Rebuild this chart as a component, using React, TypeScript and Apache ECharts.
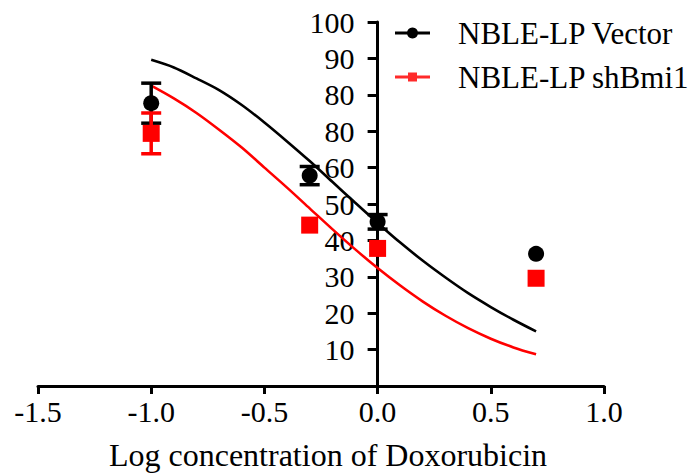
import React, { useEffect, useRef } from "react";
import * as echarts from "echarts";

const seriesNames = ["NBLE-LP Vector", "NBLE-LP shBmi1"];
const doseX = [-1.0, -0.3, 0.0, 0.7];
const vectorMean = [77.7, 57.8, 45.1, 36.3];
const vectorErr = [5.5, 2.5, 2.0, 0];
const shBmi1Mean = [69.4, 44.2, 37.8, 29.6];
const shBmi1Err = [5.6, 0, 0, 0];

const curveX = [-1.0, -0.9, -0.8, -0.7, -0.6, -0.5, -0.4, -0.3, -0.2, -0.1, 0.0, 0.1, 0.2, 0.3, 0.4, 0.5, 0.6, 0.7];
const vectorCurve = [89.6, 87.5, 84.5, 81.3, 77.2, 72.4, 67.2, 61.8, 56.1, 50.4, 44.8, 39.4, 34.4, 29.8, 25.5, 21.7, 18.2, 15.0];
const shBmi1Curve = [82.5, 79.0, 75.0, 70.4, 65.5, 60.0, 54.5, 48.8, 43.1, 37.6, 32.4, 27.6, 23.2, 19.3, 15.9, 13.0, 10.6, 8.7];

const xTickLabels = ["-1.5", "-1.0", "-0.5", "0.0", "0.5", "1.0"];
const yTickLabels = ["", "10", "20", "30", "40", "50", "60", "80", "80", "90", "100"];

const FONT = "'Liberation Serif', 'Times New Roman', serif";

export default function App() {
  const ref = useRef<HTMLDivElement>(null);

  useEffect(() => {
    if (!ref.current) return;
    const chart = echarts.init(ref.current, null, { renderer: "svg" });

    const pairs = (xs: number[], ys: number[]) => xs.map((x, i) => [x, ys[i]]);
    const errData = (means: number[], errs: number[]) =>
      doseX.map((x, i) => [x, means[i], errs[i]]).filter((d) => d[2] > 0);

    const errSeries = (name: string, data: number[][], color: string) => ({
      type: "custom",
      name,
      z: 3,
      data,
      renderItem: (params: any, api: any) => {
        const x = api.value(0);
        const m = api.value(1);
        const e = api.value(2);
        const top = api.coord([x, m + e]);
        const bot = api.coord([x, m - e]);
        const hw = 10;
        const style = { stroke: color, lineWidth: 3.5 };
        return {
          type: "group",
          children: [
            { type: "line", shape: { x1: top[0], y1: top[1], x2: bot[0], y2: bot[1] }, style },
            { type: "line", shape: { x1: top[0] - hw, y1: top[1], x2: top[0] + hw, y2: top[1] }, style },
            { type: "line", shape: { x1: bot[0] - hw, y1: bot[1], x2: bot[0] + hw, y2: bot[1] }, style },
          ],
        };
      },
    });

    const iconCircle = "path://M0 4.5H35V7.5H0Z M17.5 0.5A5.5 5.5 0 1 1 17.49 0.5Z";
    const iconSquare = "path://M0 4.5H35V7.5H0Z M13 1.5H22V10.5H13Z";

    const gridLeft = 38;
    const gridRight = 86;
    const xMin = -1.5;
    const xMax = 1.0;
    const plotW = 690 - gridLeft - gridRight;
    const zeroOffset = ((0 - xMin) / (xMax - xMin)) * plotW;

    chart.setOption({
      animation: false,
      grid: { left: gridLeft, right: gridRight, top: 22, bottom: 88, outerBoundsMode: "none" },
      legend: {
        orient: "vertical",
        left: 395,
        top: 11,
        padding: 0,
        itemGap: 0,
        itemWidth: 35,
        itemHeight: 12,
        selectedMode: false,
        textStyle: { fontFamily: FONT, fontSize: 31, color: "#000", lineHeight: 30, padding: [14, 0, 0, 23] },
        data: [
          { name: seriesNames[0], icon: iconCircle, itemStyle: { color: "#000", opacity: 1 } },
          { name: seriesNames[1], icon: iconSquare, itemStyle: { color: "#ff2a2a", opacity: 1 } },
        ],
      },
      xAxis: {
        type: "value",
        min: xMin,
        max: xMax,
        interval: 0.5,
        name: "Log concentration of Doxorubicin",
        nameLocation: "middle",
        nameGap: 53,
        nameTextStyle: { fontFamily: FONT, fontSize: 32, color: "#000", padding: [0, 0, 0, 14] },
        axisLine: { onZero: false, lineStyle: { color: "#000", width: 3 } },
        axisTick: { length: 8, lineStyle: { color: "#000", width: 3 } },
        axisLabel: {
          fontFamily: FONT,
          fontSize: 30,
          color: "#000",
          margin: 10,
          formatter: (v: number) => xTickLabels[Math.round((v - xMin) / 0.5)] ?? "",
        },
        splitLine: { show: false },
      },
      yAxis: {
        type: "value",
        min: 0,
        max: 100,
        interval: 10,
        position: "left",
        offset: -zeroOffset,
        axisLine: { show: true, onZero: false, lineStyle: { color: "#000", width: 3 } },
        axisTick: { show: true, length: 10, lineStyle: { color: "#000", width: 3 } },
        axisLabel: {
          fontFamily: FONT,
          fontSize: 30,
          color: "#000",
          margin: 23,
          showMinLabel: false,
          formatter: (v: number) => yTickLabels[Math.round(v / 10)] ?? "",
        },
        splitLine: { show: false },
      },
      series: [
        {
          type: "line",
          name: "Vector fit",
          data: pairs(curveX, vectorCurve),
          smooth: 0.3,
          symbol: "none",
          z: 2,
          lineStyle: { color: "#000", width: 2.6 },
        },
        {
          type: "line",
          name: "shBmi1 fit",
          data: pairs(curveX, shBmi1Curve),
          smooth: 0.3,
          symbol: "none",
          z: 2,
          lineStyle: { color: "#ff0000", width: 2.6 },
        },
        errSeries("Vector err", errData(vectorMean, vectorErr), "#000"),
        errSeries("shBmi1 err", errData(shBmi1Mean, shBmi1Err), "#ff0000"),
        {
          type: "scatter",
          name: seriesNames[0],
          data: pairs(doseX, vectorMean),
          symbol: "circle",
          symbolSize: 16,
          z: 4,
          itemStyle: { color: "#000", opacity: 1 },
        },
        {
          type: "scatter",
          name: seriesNames[1],
          data: pairs(doseX, shBmi1Mean),
          symbol: "rect",
          symbolSize: 17,
          z: 4,
          itemStyle: { color: "#ff0000", opacity: 1 },
        },
      ],
    });

    return () => chart.dispose();
  }, []);

  return <div ref={ref} style={{ position: "absolute", left: 0, top: 0, width: 690, height: 474 }} />;
}
